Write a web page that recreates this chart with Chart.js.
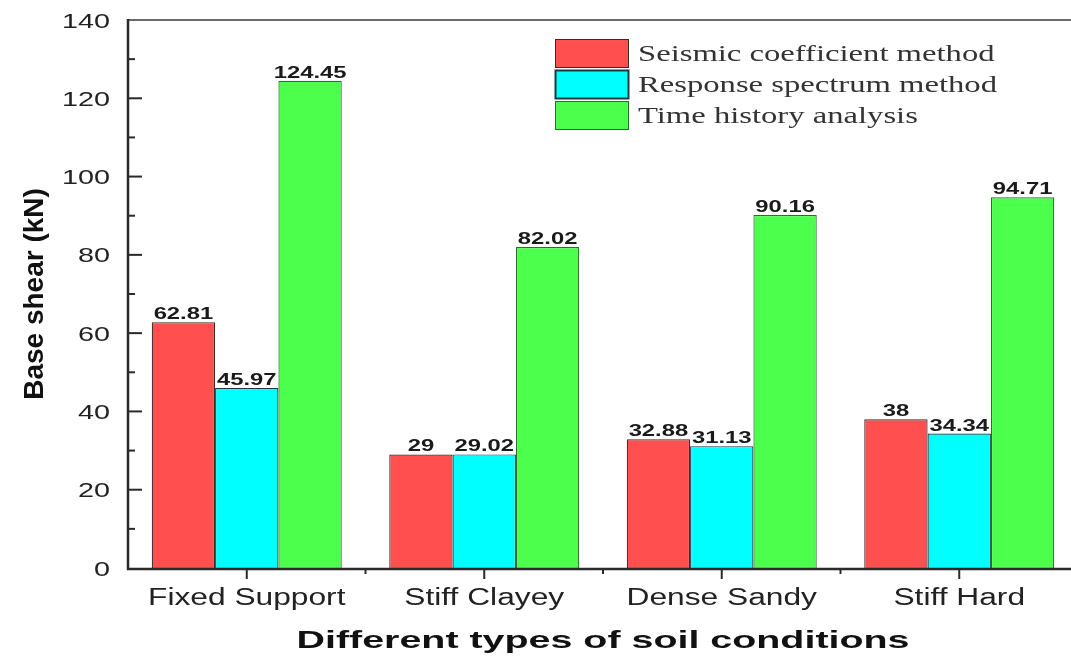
<!DOCTYPE html>
<html>
<head>
<meta charset="utf-8">
<script src="https://cdn.jsdelivr.net/npm/chart.js@4"></script>
<style>
  html, body { margin: 0; padding: 0; background: #fff; overflow: hidden; }
</style>
</head>
<body>
<canvas id="chart" width="1090" height="663"></canvas>
<script>
const categories = ["Fixed Support", "Stiff Clayey", "Dense Sandy", "Stiff Hard"];
const seriesNames = ["Seismic coefficient method", "Response spectrum method", "Time history analysis"];
const seismicCoeff = [62.81, 29, 32.88, 38];
const responseSpectrum = [45.97, 29.02, 31.13, 34.34];
const timeHistory = [124.45, 82.02, 90.16, 94.71];
const yTicks = [0, 20, 40, 60, 80, 100, 120, 140];
const yTitle = "Base shear (kN)";
const xTitle = "Different types of soil conditions";

const fills = ["#ff4f4f", "#00ffff", "#4dff4d"];
const borders = ["#3a2a2a", "#1c3a3a", "#2f6a2f"];

// draws text squeezed/stretched horizontally, the reference picture is widened
function wideText(ctx, text, x, y, sx, align) {
  ctx.save();
  ctx.translate(x, y);
  ctx.scale(sx, 1);
  ctx.textAlign = align;
  ctx.fillText(text, 0, 0);
  ctx.restore();
}

const decor = {
  id: "decor",
  afterDraw(chart) {
    const ctx = chart.ctx;
    const area = chart.chartArea;
    const xs = chart.scales.x;
    const ys = chart.scales.y;

    ctx.save();
    ctx.lineCap = "butt";

    // top frame line
    ctx.strokeStyle = "#6a6a6a";
    ctx.lineWidth = 2;
    ctx.beginPath();
    ctx.moveTo(area.left, area.top);
    ctx.lineTo(area.right, area.top);
    ctx.stroke();

    // axis lines
    ctx.strokeStyle = "#2a2a2a";
    ctx.lineWidth = 2.5;
    ctx.beginPath();
    ctx.moveTo(area.left, area.top - 1);
    ctx.lineTo(area.left, area.bottom + 1);
    ctx.lineTo(area.right, area.bottom + 1);
    ctx.stroke();

    // y ticks (inward) major + minor
    ctx.lineWidth = 2;
    yTicks.forEach((v, i) => {
      const py = ys.getPixelForValue(v);
      if (i > 0 && i < yTicks.length - 1) {
        ctx.beginPath();
        ctx.moveTo(area.left, py);
        ctx.lineTo(area.left + 14, py);
        ctx.stroke();
      }
      if (i < yTicks.length - 1) {
        const pm = ys.getPixelForValue((v + yTicks[i + 1]) / 2);
        ctx.beginPath();
        ctx.moveTo(area.left, pm);
        ctx.lineTo(area.left + 7, pm);
        ctx.stroke();
      }
    });

    // x ticks (outward)
    categories.forEach((c, i) => {
      const px = xs.getPixelForValue(i);
      ctx.beginPath();
      ctx.moveTo(px, area.bottom);
      ctx.lineTo(px, area.bottom + 11);
      ctx.stroke();
      if (i > 0) {
        const pm = (xs.getPixelForValue(i - 1) + px) / 2;
        ctx.beginPath();
        ctx.moveTo(pm, area.bottom);
        ctx.lineTo(pm, area.bottom + 6);
        ctx.stroke();
      }
    });

    // y tick labels
    ctx.fillStyle = "#222";
    ctx.font = "21px 'Liberation Sans', Arial, sans-serif";
    ctx.textBaseline = "alphabetic";
    yTicks.forEach(v => {
      wideText(ctx, String(v), area.left - 18, ys.getPixelForValue(v) + 7.5, 1.37, "right");
    });

    // x tick labels
    ctx.font = "23.5px 'Liberation Sans', Arial, sans-serif";
    categories.forEach((c, i) => {
      wideText(ctx, c, xs.getPixelForValue(i), area.bottom + 37, 1.35, "center");
    });

    // value labels above bars
    ctx.font = "bold 17px 'Liberation Sans', Arial, sans-serif";
    ctx.fillStyle = "#1a1a1a";
    chart.data.datasets.forEach((ds, di) => {
      const meta = chart.getDatasetMeta(di);
      meta.data.forEach((bar, i) => {
        wideText(ctx, String(ds.data[i]), bar.x, bar.y - 3, 1.4, "center");
      });
    });

    // x title
    ctx.font = "bold 24px 'Liberation Sans', Arial, sans-serif";
    ctx.fillStyle = "#111";
    const tw = ctx.measureText(xTitle).width;
    wideText(ctx, xTitle, (area.left + area.right) / 2, 648, 613 / tw, "center");

    // y title (rotated)
    ctx.save();
    ctx.translate(35, (area.top + area.bottom) / 2);
    ctx.rotate(-Math.PI / 2);
    ctx.font = "bold 28px 'Liberation Sans', Arial, sans-serif";
    ctx.textAlign = "center";
    ctx.textBaseline = "middle";
    ctx.fillText(yTitle, 0, 0);
    ctx.restore();

    // legend
    const boxX = 555, boxW = 74, boxH = 29, rowY = [39, 70, 101];
    ctx.font = "24px 'Liberation Serif', 'Times New Roman', serif";
    chart.data.datasets.forEach((ds, di) => {
      const y0 = rowY[di];
      ctx.fillStyle = ds.backgroundColor;
      ctx.fillRect(boxX, y0, boxW, boxH);
      ctx.strokeStyle = ds.borderColor;
      ctx.lineWidth = di === 1 ? 2 : 1;
      ctx.strokeRect(boxX + 0.5, y0 + 0.5, boxW - 1, boxH - 1);
      ctx.fillStyle = "#333";
      ctx.textBaseline = "alphabetic";
      wideText(ctx, ds.label, 638, y0 + 22, 1.36, "left");
    });

    ctx.restore();
  }
};

new Chart(document.getElementById("chart"), {
  type: "bar",
  data: {
    labels: categories,
    datasets: [
      { label: seriesNames[0], data: seismicCoeff },
      { label: seriesNames[1], data: responseSpectrum },
      { label: seriesNames[2], data: timeHistory }
    ].map((d, i) => Object.assign(d, {
      backgroundColor: fills[i],
      borderColor: borders[i],
      borderWidth: 1.2,
      categoryPercentage: 0.8,
      barPercentage: 1.0
    }))
  },
  options: {
    responsive: false,
    animation: false,
    layout: { padding: { left: 0, top: 20, right: 12, bottom: 0 } },
    plugins: {
      legend: { display: false },
      tooltip: { enabled: false }
    },
    scales: {
      x: {
        grid: { display: false },
        border: { display: false },
        ticks: { display: false },
        afterFit: s => { s.height = 95; }
      },
      y: {
        min: 0,
        max: 140,
        grid: { display: false },
        border: { display: false },
        ticks: { display: false, stepSize: 20 },
        afterFit: s => { s.width = 128; }
      }
    }
  },
  plugins: [decor]
});
</script>
</body>
</html>
